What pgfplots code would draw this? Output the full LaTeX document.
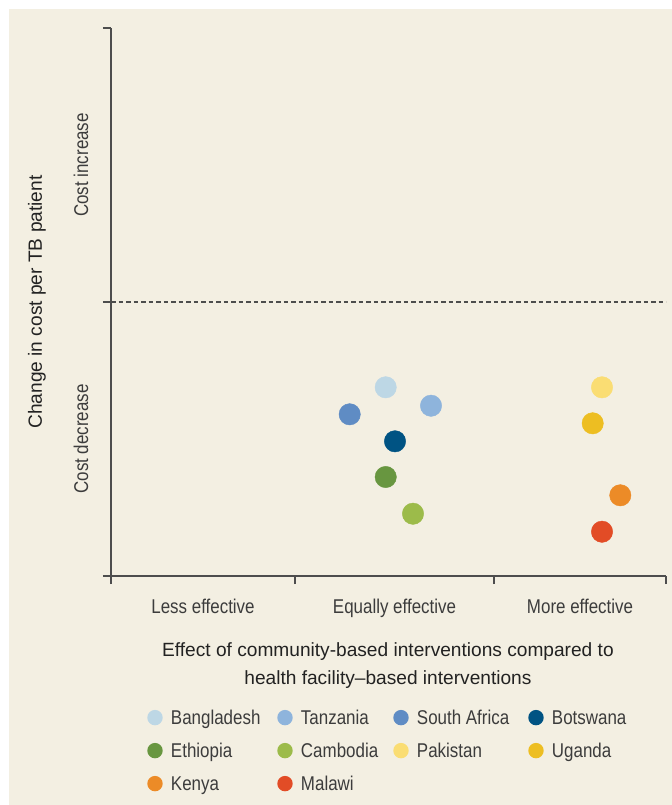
\documentclass[border=0pt]{standalone}
\usepackage{fontspec}
\setmainfont{Liberation Sans}[FakeStretch=0.85]
\newfontfamily\titlefam{Liberation Sans}[Ligatures=TeX]
\usepackage{pgfplots}
\pgfplotsset{compat=1.18}

\definecolor{bgcream}{HTML}{F3EFE2}
\definecolor{axisgray}{HTML}{4D4D4D}
\definecolor{ticktext}{HTML}{3C3C3C}
\definecolor{titletext}{HTML}{222222}
\definecolor{cBangladesh}{HTML}{BDD7E5}
\definecolor{cTanzania}{HTML}{8EB4DC}
\definecolor{cSouthAfrica}{HTML}{5F8CC4}
\definecolor{cBotswana}{HTML}{005383}
\definecolor{cEthiopia}{HTML}{689640}
\definecolor{cCambodia}{HTML}{9CBB4A}
\definecolor{cPakistan}{HTML}{FADD73}
\definecolor{cUganda}{HTML}{EDBE22}
\definecolor{cKenya}{HTML}{EC8B27}
\definecolor{cMalawi}{HTML}{E24C26}

\newcommand{\tickfont}{\fontsize{20}{23}\selectfont}
\newcommand{\titlefont}{\titlefam\fontsize{19.2}{28}\selectfont}

\begin{document}
\begin{tikzpicture}
\fill[white] (0bp,0bp) rectangle (672bp,-805bp);
\fill[bgcream] (9bp,-9bp) rectangle (672bp,-805bp);
\begin{axis}[
  at={(111bp,-576bp)}, anchor=south west,
  scale only axis, width=555bp, height=548bp,
  xmin=0, xmax=555, ymin=0, ymax=548,
  axis lines=left,
  axis line style={-, draw=axisgray, line width=1.3bp},
  tick align=outside,
  major tick length=8bp,
  tick style={draw=axisgray, line width=1.2bp},
  xtick={0,184,383,555}, xticklabels={},
  ytick={0,274,548}, yticklabels={},
  extra x ticks={92,283.5,469},
  extra x tick labels={Less effective, Equally effective, More effective},
  extra x tick style={major tick length=0pt,
    tick label style={font=\tickfont, text=ticktext, inner sep=0pt, anchor=north, yshift=-23.3bp}},
  extra y ticks={137,411},
  extra y tick labels={Cost decrease, Cost increase},
  extra y tick style={major tick length=0pt,
    tick label style={font=\tickfont, text=ticktext, rotate=90, anchor=south, inner sep=22.5bp}},
  xlabel={Effect of community-based interventions compared to\\health facility–based interventions},
  xlabel style={font=\titlefont, text=titletext, align=center, at={(axis description cs:0.499,-0.164)}, anchor=center},
  ylabel={Change in cost per TB patient},
  ylabel style={font=\titlefont, text=titletext, at={(axis description cs:-0.1333,0.5)}, anchor=center, rotate=0},
  legend image code/.code={\path[draw=none, fill=none] (0bp,-8bp) rectangle (23.7bp,8bp); \fill[draw=none] (7.7bp,0bp) circle (7.7bp);},
  legend columns=4,
  legend style={at={(axis description cs:0.0654,-0.2438)}, anchor=north west,
    draw=none, fill=none, inner sep=0pt, outer sep=0pt,
    column sep=0pt, row sep=17bp, font=\tickfont, text=ticktext,
    nodes={inner sep=0pt, text height=15bp, text depth=1bp}},
  legend cell align=left,
  clip=false,
]
\addplot[draw=axisgray, line width=1.2bp, dash pattern=on 4.5bp off 3bp, forget plot] coordinates {(0,274) (555,274)};
\addplot[only marks, mark=*, mark size=10.7bp, color=cBangladesh] coordinates {(274.7,188.7)};
\addlegendentry{\makebox[106.3bp][l]{Bangladesh}}
\addplot[only marks, mark=*, mark size=10.7bp, color=cTanzania] coordinates {(320,170.3)};
\addlegendentry{\makebox[92.3bp][l]{Tanzania}}
\addplot[only marks, mark=*, mark size=10.7bp, color=cSouthAfrica] coordinates {(238.7,161.7)};
\addlegendentry{\makebox[111.3bp][l]{South Africa}}
\addplot[only marks, mark=*, mark size=10.7bp, color=cBotswana] coordinates {(284,134.7)};
\addlegendentry{\makebox[90bp][l]{Botswana}}
\addplot[only marks, mark=*, mark size=10.7bp, color=cEthiopia] coordinates {(274.7,99)};
\addlegendentry{\makebox[106.3bp][l]{Ethiopia}}
\addplot[only marks, mark=*, mark size=10.7bp, color=cCambodia] coordinates {(302,62.3)};
\addlegendentry{\makebox[92.3bp][l]{Cambodia}}
\addplot[only marks, mark=*, mark size=10.7bp, color=cPakistan] coordinates {(491,188.7)};
\addlegendentry{\makebox[111.3bp][l]{Pakistan}}
\addplot[only marks, mark=*, mark size=10.7bp, color=cUganda] coordinates {(481.7,152.7)};
\addlegendentry{\makebox[90bp][l]{Uganda}}
\addplot[only marks, mark=*, mark size=10.7bp, color=cKenya] coordinates {(509.3,80.7)};
\addlegendentry{\makebox[106.3bp][l]{Kenya}}
\addplot[only marks, mark=*, mark size=10.7bp, color=cMalawi] coordinates {(491,44.3)};
\addlegendentry{\makebox[92.3bp][l]{Malawi}}
\end{axis}
\end{tikzpicture}
\end{document}
